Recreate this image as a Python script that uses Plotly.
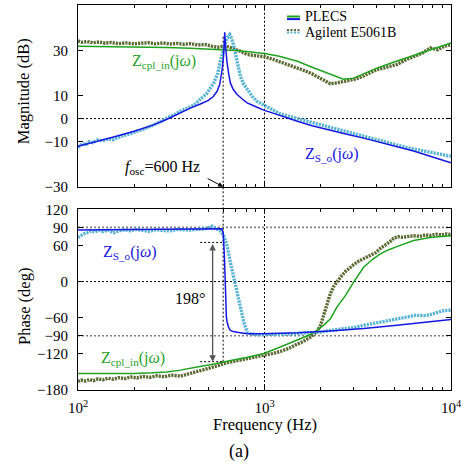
import math
import plotly.graph_objects as go

# ---------------- data ----------------
# Magnitude, PLECS, Z_cpl_in
f_mag_cpl_sim = [100, 150, 200, 300, 400, 500, 600, 700, 800, 1000, 1200, 1500, 1800, 2000,
                 2300, 2650, 3000, 3500, 4000, 5000, 6000, 8000, 10000]
mag_cpl_sim = [31.8, 31.7, 31.6, 31.3, 31.0, 30.7, 30.4, 30.0, 29.5, 28.6, 27.4, 25.2, 22.6, 21.1,
               19.1, 17.3, 17.8, 20.2, 22.2, 25.0, 27.2, 30.7, 33.3]

# Magnitude, PLECS, Z_S_o
f_mag_so_sim = [100, 120, 150, 200, 250, 300, 350, 400, 450, 500, 530, 557, 575, 593, 603, 609,
                612, 616, 622, 630, 645, 656, 680, 713, 760, 807, 900, 990, 1100, 1216, 1500,
                1800, 2255, 2800, 3400, 4200, 5130, 6300, 7740, 10000]
mag_so_sim = [-12.2, -10.6, -8.4, -5.6, -3.0, -0.3, 2.5, 4.6, 6.3, 8.0, 9.6, 12.0, 15.0, 21.6,
              27.5, 33.0, 38.0, 33.5, 28.0, 24.5, 19.0, 15.7, 12.8, 10.6, 8.6, 6.9, 5.2, 3.7, 2.5,
              1.2, -1.2, -3.2, -5.3, -7.0, -8.6, -10.5, -12.2, -14.3, -16.6, -19.5]

# Magnitude, Agilent E5061B, Z_cpl_in
f_mag_cpl_meas = [100, 105, 112, 120, 130, 140, 150, 165, 180, 200, 220, 240, 260, 285, 310, 340,
                  370, 400, 440, 480, 520, 560, 600, 640, 680, 730, 807, 900, 1000, 1100, 1216,
                  1350, 1495, 1650, 1800, 2000, 2150, 2255, 2400, 2600, 2800, 3000, 3300, 3600,
                  4020, 4500, 5130, 5700, 6300, 7000, 7740, 8500, 9200, 10000]
mag_cpl_meas = [34.2, 33.6, 33.9, 33.4, 33.7, 33.2, 33.5, 33.0, 33.3, 32.9, 33.2, 33.4, 32.9, 33.3,
                32.8, 33.1, 32.7, 33.0, 32.4, 32.6, 31.9, 31.4, 31.8, 31.6, 30.8, 29.9, 28.2, 27.8,
                27.2, 26.2, 25.0, 23.8, 22.3, 21.0, 19.7, 17.8, 16.3, 15.3, 15.6, 16.2, 16.8, 17.2,
                18.3, 19.6, 21.6, 22.6, 23.8, 25.8, 27.4, 28.8, 31.1, 30.3, 31.8, 32.6]

# Magnitude, Agilent E5061B, Z_S_o
f_mag_so_meas = [100, 105, 110, 115, 120, 127, 135, 145, 155, 165, 175, 190, 205, 220, 240, 260,
                 280, 300, 330, 360, 390, 420, 453, 490, 534, 560, 580, 604, 630, 651, 668, 684,
                 713, 743, 775, 807, 860, 912, 970, 1033, 1120, 1216, 1350, 1500, 1700, 2000,
                 2255, 2600, 3000, 3500, 4000, 4600, 5130, 5800, 6500, 7300, 8200, 9000, 10000]
mag_so_meas = [-12.8, -11.0, -11.5, -10.2, -10.6, -9.4, -9.8, -9.0, -9.3, -8.3, -7.4, -6.8, -5.6,
               -5.0, -3.8, -2.4, -1.2, 0.3, 1.8, 3.6, 4.8, 6.0, 8.5, 11.0, 15.7, 19.5, 25.5, 30.4,
               35.5, 37.0, 35.0, 31.9, 24.5, 18.6, 15.0, 12.8, 9.8, 7.6, 6.4, 5.2, 3.6, 2.0, 1.0,
               0.0, -1.2, -2.9, -4.1, -5.3, -6.5, -8.0, -9.4, -10.7, -11.8, -12.8, -13.6, -14.4,
               -15.2, -15.7, -16.6]

# Phase, PLECS, Z_S_o
f_ph_so_sim = [100, 150, 200, 300, 400, 500, 560, 590, 600, 604, 608, 612, 615, 617, 620, 625,
               630, 640, 656, 680, 713, 807, 1000, 1500, 2255, 3400, 5130, 7740, 10000]
ph_so_sim = [85.5, 86.0, 86.3, 86.7, 87.2, 88.0, 88.6, 87.5, 82.0, 70.6, 50.0, 26.0, 0.0, -28.6,
             -48.0, -60.0, -67.0, -75.0, -81.0, -83.0, -84.0, -86.5, -86.5, -85.0, -82.0, -78.0,
             -72.7, -67.0, -63.0]

# Phase, PLECS, Z_cpl_in
f_ph_cpl_sim = [100, 150, 200, 250, 300, 354, 400, 450, 520, 604, 700, 800, 990, 1216, 1500, 1700,
                1914, 2100, 2255, 2450, 2720, 3005, 3400, 3800, 4180, 4600, 5130, 6300, 7740, 10000]
ph_cpl_sim = [-152.6, -153.0, -152.5, -151.5, -150.0, -147.0, -144.5, -141.0, -137.5, -133.0,
              -129.5, -126.0, -119.5, -108.6, -97.5, -90.0, -81.0, -71.0, -61.7, -42.0, -23.0,
              -1.0, 23.7, 37.0, 46.0, 52.5, 58.0, 68.0, 73.0, 76.0]

# Phase, Agilent E5061B, Z_S_o
f_ph_so_meas = [100, 103, 107, 112, 117, 123, 130, 137, 145, 155, 165, 178, 190, 205, 220, 240,
                260, 285, 310, 340, 370, 400, 440, 480, 524, 557, 580, 604, 630, 656, 684, 713,
                743, 774, 807, 840, 900, 960, 1033, 1120, 1216, 1350, 1495, 1700, 2000, 2255,
                2600, 3000, 3400, 3900, 4500, 5130, 5800, 6480, 7200, 7740, 8500, 9200, 10000]
ph_so_meas = [73.0, 76.0, 79.0, 81.0, 84.0, 82.5, 85.0, 83.0, 85.5, 81.0, 84.0, 86.0, 84.5, 86.5,
              85.0, 83.5, 86.0, 85.5, 84.0, 86.5, 86.0, 85.5, 86.8, 87.5, 92.0, 88.0, 84.0, 76.0,
              59.5, 32.0, 7.0, -17.7, -45.0, -67.0, -84.0, -86.5, -88.0, -87.5, -88.0, -87.5,
              -87.8, -87.0, -87.2, -85.8, -84.0, -81.0, -79.0, -76.5, -72.7, -69.0, -65.0, -61.7,
              -59.0, -56.0, -56.5, -55.0, -51.0, -48.0, -47.5]

# Phase, Agilent E5061B, Z_cpl_in
f_ph_cpl_meas = [100, 104, 109, 115, 121, 128, 136, 145, 155, 166, 178, 192, 207, 224, 243, 265,
                 290, 318, 354, 400, 450, 500, 534, 570, 604, 650, 700, 750, 807, 880, 1000, 1100,
                 1216, 1350, 1495, 1600, 1750, 1914, 2000, 2076, 2165, 2255, 2350, 2450, 2580,
                 2720, 2860, 3005, 3200, 3400, 3690, 3950, 4180, 4450, 4700, 4930, 5200, 5500,
                 5900, 6300, 6800, 7300, 7740, 8300, 8900, 9500, 10000]
ph_cpl_meas = [-166.0, -163.5, -165.0, -162.5, -164.5, -161.5, -163.0, -160.5, -162.0, -159.5,
               -161.0, -158.5, -160.0, -157.5, -159.0, -156.5, -158.0, -155.5, -157.0, -152.0,
               -147.5, -143.5, -141.6, -139.0, -136.0, -134.0, -132.5, -130.0, -128.0, -126.0,
               -122.0, -119.5, -116.0, -111.0, -104.0, -100.0, -93.0, -83.0, -72.0, -55.0, -37.0,
               -20.0, -8.0, 0.0, 9.0, 17.0, 23.0, 28.0, 34.0, 38.0, 44.0, 48.0, 55.0, 60.0, 66.0,
               72.0, 74.5, 73.5, 75.5, 76.0, 75.0, 77.5, 76.5, 78.5, 77.5, 79.0, 78.0]

x_tickvals = [100, 1000, 10000]
x_ticktext = ["10<sup>2</sup>", "10<sup>3</sup>", "10<sup>4</sup>"]
x_minor = [200, 300, 400, 500, 600, 700, 800, 900, 2000, 3000, 4000, 5000, 6000, 7000, 8000, 9000]
mag_ticks = [-30, -10, 0, 10, 30, 50]
ph_ticks = [-180, -120, -90, -60, 0, 60, 90, 120]
f_osc = 600

# ---------------- style ----------------
GREEN = "#1fa31f"
BLUE = "#1616e0"
CYAN = "#58b4d4"
OLIVE = "#5a6a32"
FONT = "Liberation Serif"
MEAS_DASH = "2.2px,1px"

fig = go.Figure()

def meas(x, y, color, xa, ya):
    fig.add_trace(go.Scatter(x=x, y=y, mode="lines", xaxis=xa, yaxis=ya,
                             line=dict(color=color, width=3.4, dash=MEAS_DASH),
                             showlegend=False, hoverinfo="skip"))

def sim(x, y, color, xa, ya):
    fig.add_trace(go.Scatter(x=x, y=y, mode="lines", xaxis=xa, yaxis=ya,
                             line=dict(color=color, width=1.5),
                             showlegend=False, hoverinfo="skip"))

meas(f_mag_cpl_meas, mag_cpl_meas, OLIVE, "x", "y")
meas(f_mag_so_meas, mag_so_meas, CYAN, "x", "y")
sim(f_mag_cpl_sim, mag_cpl_sim, GREEN, "x", "y")
sim(f_mag_so_sim, mag_so_sim, BLUE, "x", "y")

meas(f_ph_cpl_meas, ph_cpl_meas, OLIVE, "x2", "y2")
meas(f_ph_so_meas, ph_so_meas, CYAN, "x2", "y2")
sim(f_ph_cpl_sim, ph_cpl_sim, GREEN, "x2", "y2")
sim(f_ph_so_sim, ph_so_sim, BLUE, "x2", "y2")

tickfont = dict(family=FONT, size=15, color="black")
xcommon = dict(type="log", range=[2, 4], showline=True, linecolor="black", linewidth=1,
               mirror="ticks", ticks="inside", ticklen=5, tickcolor="black",
               tickvals=x_tickvals, ticktext=x_ticktext, showgrid=False, zeroline=False,
               tickfont=tickfont, automargin=False,
               minor=dict(tickmode="array", tickvals=x_minor, ticks="inside", ticklen=3,
                          tickcolor="black", showgrid=False))
ycommon = dict(showline=True, linecolor="black", linewidth=1, mirror="ticks", ticks="inside",
               ticklen=5, tickcolor="black", showgrid=False, zeroline=False, tickfont=tickfont,
               ticklabelstandoff=6, automargin=False)

TOP = [0.528, 1.0]
BOT = [0.0, 0.4694]

fig.update_layout(
    template="none",
    width=475, height=467,
    margin=dict(l=78, r=24, t=5, b=77, autoexpand=False),
    paper_bgcolor="white", plot_bgcolor="white",
    font=dict(family=FONT, size=15, color="black"),
    xaxis=dict(**xcommon, anchor="y", showticklabels=False),
    yaxis=dict(**ycommon, anchor="x", domain=TOP, range=[-30, 50], tickvals=mag_ticks),
    xaxis2=dict(**xcommon, anchor="y2", ticklabelstandoff=4),
    yaxis2=dict(**ycommon, anchor="x2", domain=BOT, range=[-180, 120], tickvals=ph_ticks),
    showlegend=False,
)

DOT = "2px,2px"
shapes = []
# magnitude reference lines
shapes.append(dict(type="line", xref="x", yref="y", x0=100, x1=10000, y0=0, y1=0,
                   line=dict(color="black", width=1, dash=DOT), layer="below"))
shapes.append(dict(type="line", xref="x", yref="y", x0=1000, x1=1000, y0=-30, y1=50,
                   line=dict(color="black", width=1, dash=DOT), layer="below"))
# phase reference lines
shapes.append(dict(type="line", xref="x2", yref="y2", x0=100, x1=10000, y0=0, y1=0,
                   line=dict(color="black", width=1, dash=DOT), layer="below"))
for v in (90, -90):
    shapes.append(dict(type="line", xref="x2", yref="y2", x0=100, x1=10000, y0=v, y1=v,
                       line=dict(color="#808080", width=1.6, dash=DOT), layer="below"))
shapes.append(dict(type="line", xref="x2", yref="y2", x0=1000, x1=1000, y0=-180, y1=120,
                   line=dict(color="black", width=1, dash=DOT), layer="below"))
# f_osc line through both plots
shapes.append(dict(type="line", xref="x", yref="y", x0=f_osc, x1=f_osc, y0=-30, y1=36,
                   line=dict(color="black", width=1, dash=DOT), layer="below"))
shapes.append(dict(type="line", xref="x", yref="paper", x0=f_osc, x1=f_osc, y0=BOT[1], y1=TOP[0],
                   line=dict(color="black", width=1, dash=DOT)))
shapes.append(dict(type="line", xref="x2", yref="y2", x0=f_osc, x1=f_osc, y0=-133, y1=120,
                   line=dict(color="black", width=1, dash=DOT), layer="below"))
# 198 deg marker ticks
for v in (65, -133):
    shapes.append(dict(type="line", xref="x2", yref="y2", x0=452, x1=f_osc, y0=v, y1=v,
                       line=dict(color="black", width=1, dash=DOT)))

# legend (drawn)
def px2paper_x(px):
    return (px - 78) / 373.0

def py2paper_y(py):
    return (390 - py) / 385.0

leg = [(16.5, GREEN, None), (19.1, BLUE, None), (30.0, OLIVE, "2px,1.5px"), (32.6, CYAN, "2px,1.5px")]
for py, col, dsh in leg:
    ln = dict(color=col, width=2)
    if dsh:
        ln["dash"] = dsh
    shapes.append(dict(type="line", xref="paper", yref="paper",
                       x0=px2paper_x(287), x1=px2paper_x(300), y0=py2paper_y(py), y1=py2paper_y(py),
                       line=ln))
fig.update_layout(shapes=shapes)

ann = []
def txt(text, x, y, xref, yref, size=16, color="black", **kw):
    d = dict(text=text, x=x, y=y, xref=xref, yref=yref, showarrow=False,
             xanchor="center", yanchor="middle",
             font=dict(family=FONT, size=size, color=color))
    d.update(kw)
    ann.append(d)

lg = math.log10
txt("PLECS", px2paper_x(303), py2paper_y(16.5), "paper", "paper", size=14, xanchor="left")
txt("Agilent E5061B", px2paper_x(303), py2paper_y(32.5), "paper", "paper", size=14, xanchor="left")

txt("Magnitude (dB)", -0.146, 0.775, "paper", "paper", size=16.5, textangle=-90)
txt("Phase (deg)", -0.142, 0.2156, "paper", "paper", size=16.5, textangle=-90)
txt("Frequency (Hz)", 0.501, -0.0909, "paper", "paper", size=16.5)
txt("(a)", 0.432, -0.161, "paper", "paper", size=18)

txt("Z<sub>cpl_in</sub>(j<i>ω</i>)", lg(290), 25.2, "x", "y", color=GREEN)
txt("Z<sub>S_o</sub>(j<i>ω</i>)", lg(2300), -15.9, "x", "y", color=BLUE)
txt("<i>f</i><sub>osc</sub>=600 Hz", lg(285), -21.6, "x", "y")
txt("Z<sub>S_o</sub>(j<i>ω</i>)", lg(189), 48.4, "x2", "y2", color=BLUE)
txt("198°", lg(401), -28, "x2", "y2")
txt("Z<sub>cpl_in</sub>(j<i>ω</i>)", lg(198), -127, "x2", "y2", color=GREEN)

# arrow to f_osc
ann.append(dict(x=lg(f_osc), y=-30, xref="x", yref="y", text="", showarrow=True,
                ax=-17, ay=-9, arrowhead=2, arrowsize=1, arrowwidth=1, arrowcolor="black"))
# 198 deg double arrow
ann.append(dict(x=lg(527), y=-133, xref="x2", yref="y2", axref="x2", ayref="y2",
                ax=lg(527), ay=65, text="", showarrow=True, arrowside="end+start",
                arrowhead=2, arrowsize=1, arrowwidth=1.3, arrowcolor="#555555"))
fig.update_layout(annotations=ann)

fig.write_html("out.html")
